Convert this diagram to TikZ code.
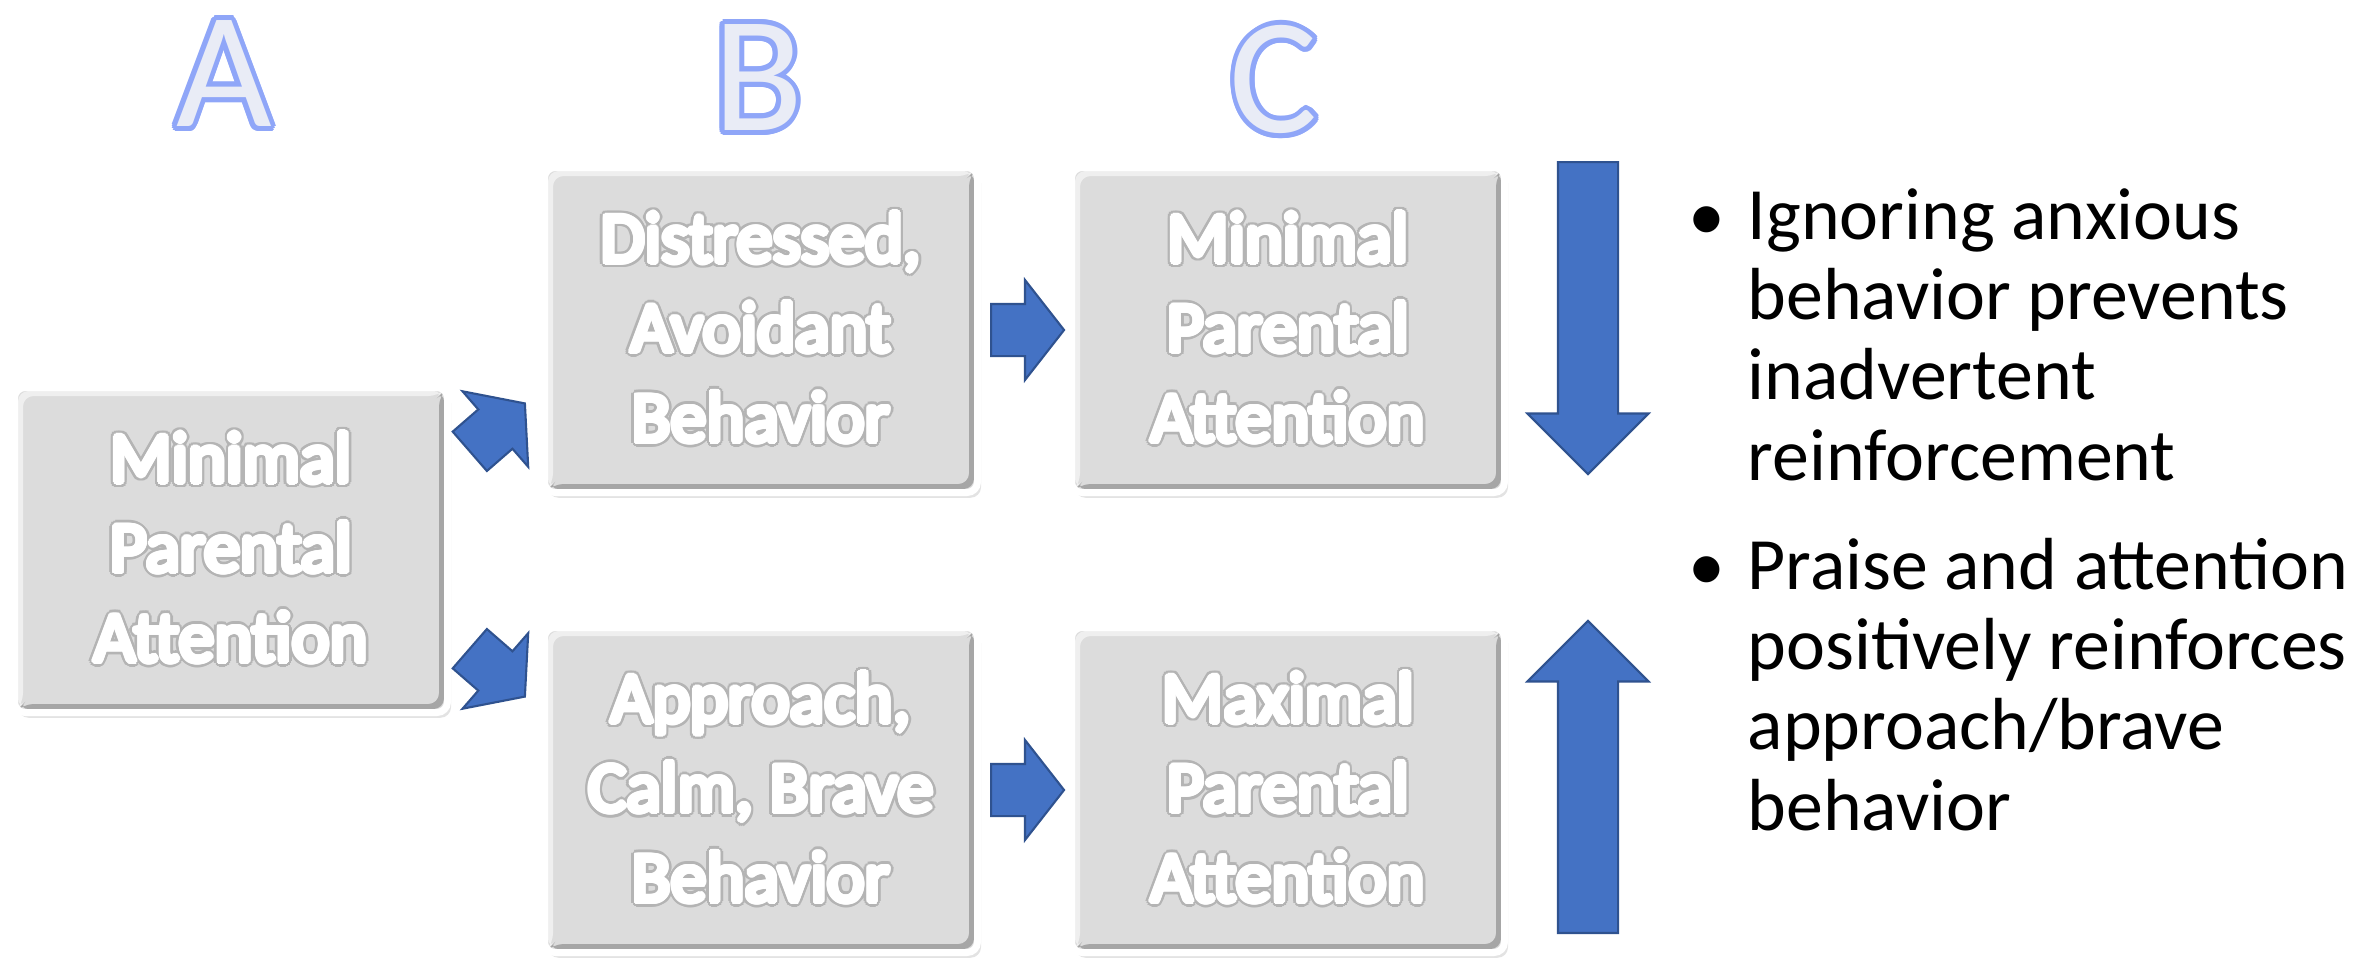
\documentclass[tikz,border=0pt]{standalone}
\usepackage{fontspec}
\setmainfont{Carlito}
\usepackage[copies]{contour}
\usepackage{tikz}
\usetikzlibrary{positioning, calc, shapes.arrows, shadows}

\definecolor{boxgray}{HTML}{DCDCDC}
\definecolor{bevellight}{HTML}{EFEFEF}
\definecolor{beveldark}{HTML}{A6A6A6}
\definecolor{glowgray}{HTML}{B4B4B4}
\definecolor{arrowblue}{HTML}{4472C4}
\definecolor{arrowline}{HTML}{2F528F}
\definecolor{letterfill}{HTML}{E9ECF6}
\definecolor{letterline}{HTML}{8FA6F8}

% white label text: thickened white strokes over a soft grey rim
\newcommand{\boxline}[1]{\rlap{\contourlength{1.5pt}\contour{glowgray}{#1}}%
  {\contourlength{0.75pt}\contour{white}{#1}}}
% outlined column letters
\newcommand{\stageletter}[1]{{\contourlength{1.4pt}\contour{letterline}{\textcolor{letterfill}{#1}}}}

\tikzset{
  stagebox/.style={rectangle, fill=boxgray, draw=white, line width=0.07cm,
    rounded corners=3pt, minimum width=4.33cm, minimum height=3.25cm,
    drop shadow={opacity=0.22, shadow xshift=1pt, shadow yshift=-1.5pt},
    text=white, align=center, font=\fontsize{20.5}{25.5}\selectfont,
    path picture={
      \path (path picture bounding box.south west) coordinate (sw)
            (path picture bounding box.north east) coordinate (ne);
      \fill[bevellight] ($(sw)+(0.035,0.035)$) |- ($(ne)-(0.035,0.035)$)
        -- ++(-0.05,-0.05) -| ($(sw)+(0.085,0.085)$) -- cycle;
      \fill[beveldark] ($(sw)+(0.035,0.035)$) -| ($(ne)-(0.035,0.035)$)
        -- ++(-0.05,-0.05) |- ($(sw)+(0.085,0.085)$) -- cycle;
    }},
  blockarrow/.style={single arrow, fill=arrowblue, draw=arrowline, line width=0.6pt,
    inner sep=0pt, inner ysep=0.25cm, single arrow head extend=0.24cm,
    single arrow tip angle=104, minimum height=0.73cm, anchor=tail},
  bigarrow/.style={single arrow, fill=arrowblue, draw=arrowline, line width=0.6pt,
    inner sep=0pt, inner ysep=0.29cm, single arrow head extend=0.305cm,
    single arrow tip angle=90, minimum height=3.12cm, anchor=tail},
  letter/.style={font=\fontsize{47}{47}\selectfont, inner sep=0pt},
  bulletdot/.style={anchor=base west, inner sep=0pt, font=\fontsize{21}{22.8}\selectfont},
  bullettext/.style={anchor=base west, align=left, inner sep=0pt, font=\fontsize{21}{22.8}\selectfont}
}

\begin{document}
\begin{tikzpicture}
\useasboundingbox (0,0) rectangle (23.79,9.6);

% column letters
\node[letter] (la) at (2.24,8.84) {\stageletter{A}};
\node[letter] (lb) at (7.58,8.80) {\stageletter{B}};
\node[letter] (lc) at (12.74,8.78) {\stageletter{C}};

% boxes
\node[stagebox] (A) at (2.31,4.10) {\boxline{Minimal}\\\boxline{Parental}\\\boxline{Attention}};
\node[stagebox] (B1) at (7.61,6.30) {\boxline{Distressed,}\\\boxline{Avoidant}\\\boxline{Behavior}};
\node[stagebox] (C1) at (12.88,6.30) {\boxline{Minimal}\\\boxline{Parental}\\\boxline{Attention}};
\node[stagebox] (B2) at (7.61,1.70) {\boxline{Approach,}\\\boxline{Calm, Brave}\\\boxline{Behavior}};
\node[stagebox] (C2) at (12.88,1.70) {\boxline{Maximal}\\\boxline{Parental}\\\boxline{Attention}};

% arrows between boxes
\node[blockarrow, rotate=41] (ab1) at ([shift={(0.18,0.98)}]A.east) {};
\node[blockarrow, rotate=-41] (ab2) at ([shift={(0.18,-0.98)}]A.east) {};
\node[blockarrow] (bc1) at ([xshift=0.09cm]B1.east) {};
\node[blockarrow] (bc2) at ([xshift=0.09cm]B2.east) {};

% down / up
\node[bigarrow, rotate=-90] (down) at (15.88,7.99) {};
\node[bigarrow, rotate=90] (up) at (15.88,0.26) {};

% notes
\node[bulletdot] (dot1) at (16.88,7.20) {\textbullet};
\node[bullettext] (note1) at (17.47,4.80) {Ignoring anxious\\behavior prevents\\inadvertent\\reinforcement};
\node[bulletdot] (dot2) at (16.88,3.70) {\textbullet};
\node[bullettext] (note2) at (17.47,1.30) {Praise and attention\\positively reinforces\\approach/brave\\behavior};
\end{tikzpicture}
\end{document}
